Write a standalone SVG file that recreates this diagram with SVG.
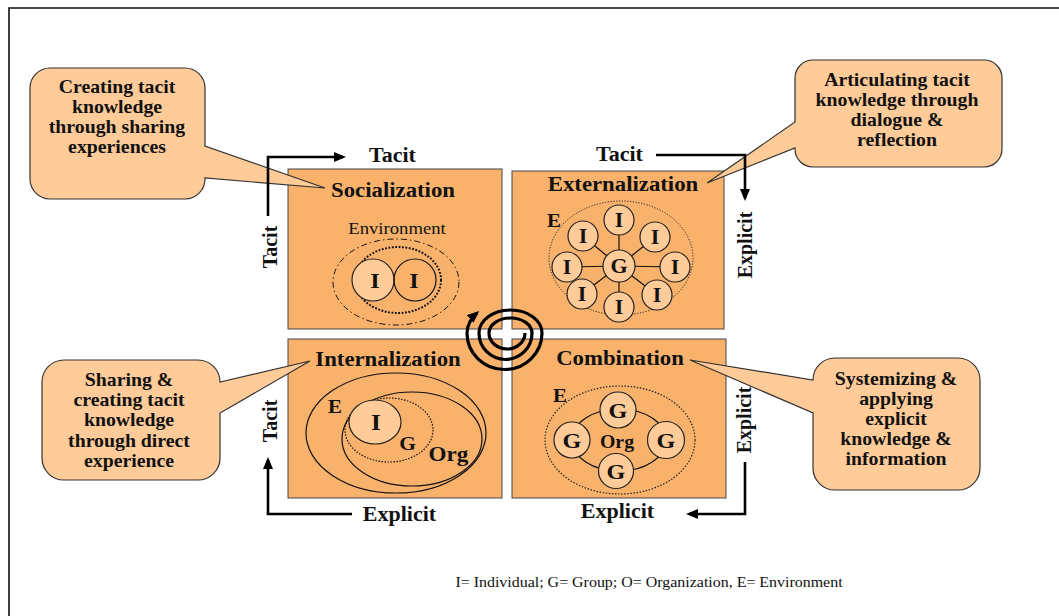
<svg xmlns="http://www.w3.org/2000/svg" width="1059" height="616" viewBox="0 0 1059 616">
<style>
text{font-family:"Liberation Serif","Times New Roman",serif;fill:#111;text-anchor:middle}
.b{font-weight:bold}
.box{fill:#F9B26C;stroke:#444;stroke-width:1}
.bub{fill:#FFCB98;stroke:#333;stroke-width:1.2}
.lt{fill:#FFCB98;stroke:#222;stroke-width:1.2}
.ln{fill:none;stroke:#111;stroke-width:1.2}
.arr{fill:none;stroke:#000;stroke-width:2.6}
.sp{fill:none;stroke:#000;stroke-width:3.2}
.ti{font-size:20.7px;font-weight:bold}
.ax{font-size:20px;font-weight:bold}
.cb{font-size:18px;font-weight:bold}
</style>
<defs>
<marker id="ah" markerUnits="userSpaceOnUse" markerWidth="12" markerHeight="10" refX="9" refY="5" orient="auto">
<path d="M0,0 L12,5 L0,10 Z" fill="#000"/>
</marker>
</defs>
<rect width="1059" height="616" fill="#fff"/>
<path d="M9,616 V8 H1059" fill="none" stroke="#111" stroke-width="1.6"/>

<g id="socialization">
<rect class="box" x="288" y="169" width="214" height="160"/>
<text class="ti" transform="translate(393 197) scale(1.1 1)">Socialization</text>
<text style="font-size:17px" transform="translate(397 234) scale(1.1 1)">Environment</text>
<ellipse cx="396" cy="282" rx="63" ry="43" fill="none" stroke="#111" stroke-width="1" stroke-dasharray="6 3 1.5 3"/>
<ellipse cx="398" cy="280" rx="43" ry="33" fill="none" stroke="#111" stroke-width="2" stroke-dasharray="1.8 1.6"/>
<circle class="lt" cx="373" cy="280" r="21"/>
<circle class="ln" cx="415" cy="280" r="21"/>
<text class="b" style="font-size:22px" transform="translate(375 288) scale(1.1 1)">I</text>
<text class="b" style="font-size:22px" transform="translate(414 288) scale(1.1 1)">I</text>
</g>

<g id="externalization">
<rect class="box" x="512" y="171" width="212" height="158"/>
<text class="ti" transform="translate(623 191) scale(1.1 1)">Externalization</text>
<ellipse cx="621" cy="258" rx="72" ry="57" fill="none" stroke="#222" stroke-width="1" stroke-dasharray="1.2 1.6"/>
<text class="b" style="font-size:19px" transform="translate(554 227) scale(1.1 1)">E</text>
<g stroke="#111" stroke-width="1.2">
<line x1="619" y1="266" x2="619" y2="220"/>
<line x1="619" y1="266" x2="583" y2="236"/>
<line x1="619" y1="266" x2="655" y2="237"/>
<line x1="619" y1="266" x2="567" y2="267"/>
<line x1="619" y1="266" x2="675" y2="267"/>
<line x1="619" y1="266" x2="582" y2="294"/>
<line x1="619" y1="266" x2="657" y2="295"/>
<line x1="619" y1="266" x2="619" y2="307"/>
</g>
<circle class="lt" cx="619" cy="220" r="15"/>
<circle class="lt" cx="583" cy="236" r="15"/>
<circle class="lt" cx="655" cy="237" r="15"/>
<circle class="lt" cx="567" cy="267" r="15"/>
<circle class="lt" cx="675" cy="267" r="15"/>
<circle class="lt" cx="619" cy="266" r="16"/>
<circle class="lt" cx="582" cy="294" r="15"/>
<circle class="lt" cx="657" cy="295" r="15"/>
<circle class="lt" cx="619" cy="307" r="15"/>
<g class="b" style="font-size:20px">
<text transform="translate(619 227) scale(1.1 1)">I</text>
<text transform="translate(583 243) scale(1.1 1)">I</text>
<text transform="translate(655 244) scale(1.1 1)">I</text>
<text transform="translate(567 274) scale(1.1 1)">I</text>
<text transform="translate(675 274) scale(1.1 1)">I</text>
<text transform="translate(619 273) scale(1.1 1)">G</text>
<text transform="translate(582 301) scale(1.1 1)">I</text>
<text transform="translate(657 302) scale(1.1 1)">I</text>
<text transform="translate(619 314) scale(1.1 1)">I</text>
</g>
</g>

<g id="internalization">
<rect class="box" x="288" y="339" width="214" height="159"/>
<text class="ti" transform="translate(388 366) scale(1.1 1)">Internalization</text>
<ellipse class="ln" cx="396" cy="433" rx="90" ry="60"/>
<ellipse class="ln" cx="412" cy="439" rx="70" ry="47"/>
<ellipse cx="389" cy="430" rx="44" ry="32" fill="none" stroke="#111" stroke-width="1.2" stroke-dasharray="1.5 1.5"/>
<ellipse class="lt" cx="375" cy="422" rx="26" ry="22"/>
<text class="b" style="font-size:19px" transform="translate(335 413) scale(1.1 1)">E</text>
<text class="b" style="font-size:23px" transform="translate(376 430) scale(1.1 1)">I</text>
<text class="b" style="font-size:19.5px" transform="translate(407.5 450) scale(1.1 1)">G</text>
<text class="b" style="font-size:21px" transform="translate(448.5 461) scale(1.1 1)">Org</text>
</g>

<g id="combination">
<rect class="box" x="512" y="339" width="214" height="159"/>
<text class="ti" transform="translate(620 365) scale(1.1 1)">Combination</text>
<ellipse cx="620" cy="440" rx="75" ry="54" fill="none" stroke="#222" stroke-width="1.2" stroke-dasharray="1.5 1.6"/>
<text class="b" style="font-size:19px" transform="translate(560 402) scale(1.1 1)">E</text>
<ellipse class="ln" cx="619" cy="440" rx="47" ry="31"/>
<circle class="lt" cx="618" cy="410" r="18"/>
<circle class="lt" cx="572" cy="440" r="18"/>
<circle class="lt" cx="666" cy="440" r="18.5"/>
<circle class="lt" cx="616" cy="471" r="17.5"/>
<g class="b" style="font-size:22px">
<text transform="translate(618 418) scale(1.1 1)">G</text>
<text transform="translate(572 448) scale(1.1 1)">G</text>
<text transform="translate(666 448) scale(1.1 1)">G</text>
<text transform="translate(616 479) scale(1.1 1)">G</text>
</g>
<text class="b" style="font-size:18px" transform="translate(617 448) scale(1.1 1)">Org</text>
</g>

<g id="callout-socialization">
<path class="bub" d="M50,68 H185 A20,20 0 0 1 205,88 V146 L325,188 L205,178 V179 A20,20 0 0 1 185,199 H50 A20,20 0 0 1 30,179 V88 A20,20 0 0 1 50,68 Z"/>
<text class="cb" transform="translate(117 93) scale(1.1 1)">Creating tacit</text>
<text class="cb" transform="translate(117 113) scale(1.1 1)">knowledge</text>
<text class="cb" transform="translate(117 133) scale(1.1 1)">through sharing</text>
<text class="cb" transform="translate(117 153) scale(1.1 1)">experiences</text>
</g>

<g id="callout-externalization">
<path class="bub" d="M813,60 H984 A18,18 0 0 1 1002,78 V149 A18,18 0 0 1 984,167 H813 A18,18 0 0 1 795,149 V148 L707,183 L795,122 V78 A18,18 0 0 1 813,60 Z"/>
<text class="cb" transform="translate(897 86) scale(1.1 1)">Articulating tacit</text>
<text class="cb" transform="translate(897 106) scale(1.1 1)">knowledge through</text>
<text class="cb" transform="translate(897 126) scale(1.1 1)">dialogue &amp;</text>
<text class="cb" transform="translate(897 146) scale(1.1 1)">reflection</text>
</g>

<g id="callout-internalization">
<path class="bub" d="M64,360 H198 A22,22 0 0 1 220,382 L310,361 L220,413 V458 A22,22 0 0 1 198,480 H64 A22,22 0 0 1 42,458 V382 A22,22 0 0 1 64,360 Z"/>
<text class="cb" transform="translate(129 386) scale(1.1 1)">Sharing &amp;</text>
<text class="cb" transform="translate(129 406) scale(1.1 1)">creating tacit</text>
<text class="cb" transform="translate(129 426) scale(1.1 1)">knowledge</text>
<text class="cb" transform="translate(129 447) scale(1.1 1)">through direct</text>
<text class="cb" transform="translate(129 467) scale(1.1 1)">experience</text>
</g>

<g id="callout-combination">
<path class="bub" d="M835,358 H958 A22,22 0 0 1 980,380 V468 A22,22 0 0 1 958,490 H835 A22,22 0 0 1 813,468 V413 L690,360 L813,380 A22,22 0 0 1 835,358 Z"/>
<text class="cb" transform="translate(896 385) scale(1.1 1)">Systemizing &amp;</text>
<text class="cb" transform="translate(896 405) scale(1.1 1)">applying</text>
<text class="cb" transform="translate(896 425) scale(1.1 1)">explicit</text>
<text class="cb" transform="translate(896 445) scale(1.1 1)">knowledge &amp;</text>
<text class="cb" transform="translate(896 465) scale(1.1 1)">information</text>
</g>

<g id="connectors">
<path class="arr" d="M268,216 V157 H343" marker-end="url(#ah)"/>
<path class="arr" d="M656,155 H745 V198" marker-end="url(#ah)"/>
<path class="arr" d="M745,462 V514 H689" marker-end="url(#ah)"/>
<path class="arr" d="M352,514 H268 V460" marker-end="url(#ah)"/>
<path class="sp" d="M525,333 A18,16 0 0 1 489,333 A21.5,15 0 0 1 532,333 A26,26 0 0 1 479,333 A31.5,23 0 0 1 542,333 A37,36 0 0 1 467,333 A36,30 0 0 1 477,313" marker-end="url(#ah)"/>
</g>

<g id="axis-labels">
<text class="ax" transform="translate(392.5 162) scale(1.1 1)">Tacit</text>
<text class="ax" transform="translate(619.5 161) scale(1.1 1)">Tacit</text>
<text class="ax" transform="translate(399.5 521) scale(1.1 1)">Explicit</text>
<text class="ax" transform="translate(617.5 518) scale(1.1 1)">Explicit</text>
<text class="ax" transform="translate(277 247) scale(1.1 1) rotate(-90)">Tacit</text>
<text class="ax" transform="translate(277 421) scale(1.1 1) rotate(-90)">Tacit</text>
<text class="ax" transform="translate(752 245) scale(1.1 1) rotate(-90)">Explicit</text>
<text class="ax" transform="translate(751 420) scale(1.1 1) rotate(-90)">Explicit</text>
</g>

<text style="font-size:14.5px" transform="translate(649 587) scale(1.1 1)">I= Individual; G= Group; O= Organization, E= Environment</text>
</svg>
